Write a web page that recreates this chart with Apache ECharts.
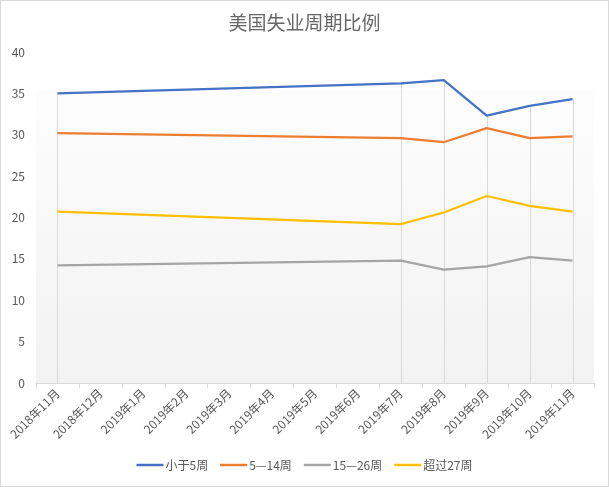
<!DOCTYPE html>
<html>
<head>
<meta charset="utf-8">
<script src="https://cdn.jsdelivr.net/npm/echarts@6/dist/echarts.min.js"></script>
<style>
html,body{margin:0;padding:0;background:#fff;}
#wrap{width:609px;height:487px;box-sizing:border-box;border:1px solid #d9d9d9;position:relative;}
#chart{position:absolute;left:-1px;top:-1px;width:609px;height:487px;}
</style>
</head>
<body>
<div id="wrap"><div id="chart"></div></div>
<script>
var titleText = '美国失业周期比例';
var categories = ['2018年11月','2018年12月','2019年1月','2019年2月','2019年3月','2019年4月','2019年5月','2019年6月','2019年7月','2019年8月','2019年9月','2019年10月','2019年11月'];
var seriesNames = ['小于5周','5—14周','15—26周','超过27周'];
var under5   = [35.0, null, null, null, null, null, null, null, 36.2, 36.6, 32.3, 33.5, 34.3];
var w5to14   = [30.2, null, null, null, null, null, null, null, 29.6, 29.1, 30.8, 29.6, 29.8];
var w15to26  = [14.2, null, null, null, null, null, null, null, 14.8, 13.7, 14.1, 15.2, 14.8];
var over27   = [20.7, null, null, null, null, null, null, null, 19.2, 20.6, 22.6, 21.4, 20.7];
var yTicks = {min: 0, max: 40, interval: 5};

var colors = ['#4472C4', '#ED7D31', '#A5A5A5', '#FFC000'];
var allSeries = [under5, w5to14, w15to26, over27];

// drop lines: from axis to highest value at each category that has data
var dropData = [];
categories.forEach(function (c, i) {
  var vals = allSeries.map(function (s) { return s[i]; }).filter(function (v) { return v != null; });
  if (vals.length) dropData.push([i, Math.max.apply(null, vals)]);
});

var font = '"Noto Sans CJK SC", "Noto Sans", sans-serif';
var chart = echarts.init(document.getElementById('chart'), null, {renderer: 'canvas'});

var lineSeries = allSeries.map(function (d, k) {
  return {
    name: seriesNames[k],
    type: 'line',
    data: d,
    connectNulls: true,
    showSymbol: false,
    symbol: 'none',
    lineStyle: {color: colors[k], width: 2.25},
    itemStyle: {color: colors[k]},
    z: 3
  };
});

chart.setOption({
  animation: false,
  textStyle: {fontFamily: font},
  title: {
    text: titleText,
    left: 'center',
    top: 8,
    textStyle: {fontFamily: font, fontSize: 19, fontWeight: 'normal', color: '#666666'}
  },
  legend: {
    data: seriesNames,
    bottom: 11,
    left: 'center',
    icon: 'rect',
    itemWidth: 27,
    itemHeight: 2.5,
    itemGap: 12,
    textStyle: {fontFamily: font, fontSize: 12, color: '#595959', padding: [0, 0, 0, -3]}
  },
  grid: {
    left: 36, right: 15, top: 52, bottom: 104,
    show: true,
    borderWidth: 0,
    backgroundColor: new echarts.graphic.LinearGradient(0, 0, 0, 1, [
      {offset: 0, color: '#ffffff'},
      {offset: 0.11, color: '#ffffff'},
      {offset: 0.12, color: '#fdfdfd'},
      {offset: 1, color: '#f2f2f2'}
    ])
  },
  xAxis: {
    type: 'category',
    data: categories,
    boundaryGap: true,
    axisLine: {lineStyle: {color: '#d9d9d9', width: 1}},
    axisTick: {show: true, length: 5, lineStyle: {color: '#d9d9d9'}},
    axisLabel: {rotate: 45, interval: 0, fontSize: 12, color: '#595959', fontFamily: font, margin: 8},
    splitLine: {show: false}
  },
  yAxis: {
    type: 'value',
    min: yTicks.min, max: yTicks.max, interval: yTicks.interval,
    axisLine: {show: false},
    axisTick: {show: false},
    splitLine: {show: false},
    axisLabel: {fontSize: 12, color: '#595959', fontFamily: font, margin: 11}
  },
  series: [{
    name: 'drop',
    type: 'custom',
    silent: true,
    z: 1,
    data: dropData,
    renderItem: function (params, api) {
      var top = api.coord([api.value(0), api.value(1)]);
      var bot = api.coord([api.value(0), 0]);
      return {
        type: 'line',
        shape: {x1: Math.round(top[0]) + 0.5, y1: top[1], x2: Math.round(bot[0]) + 0.5, y2: bot[1]},
        style: {stroke: '#d9d9d9', lineWidth: 1}
      };
    }
  }].concat(lineSeries)
});
</script>
</body>
</html>
